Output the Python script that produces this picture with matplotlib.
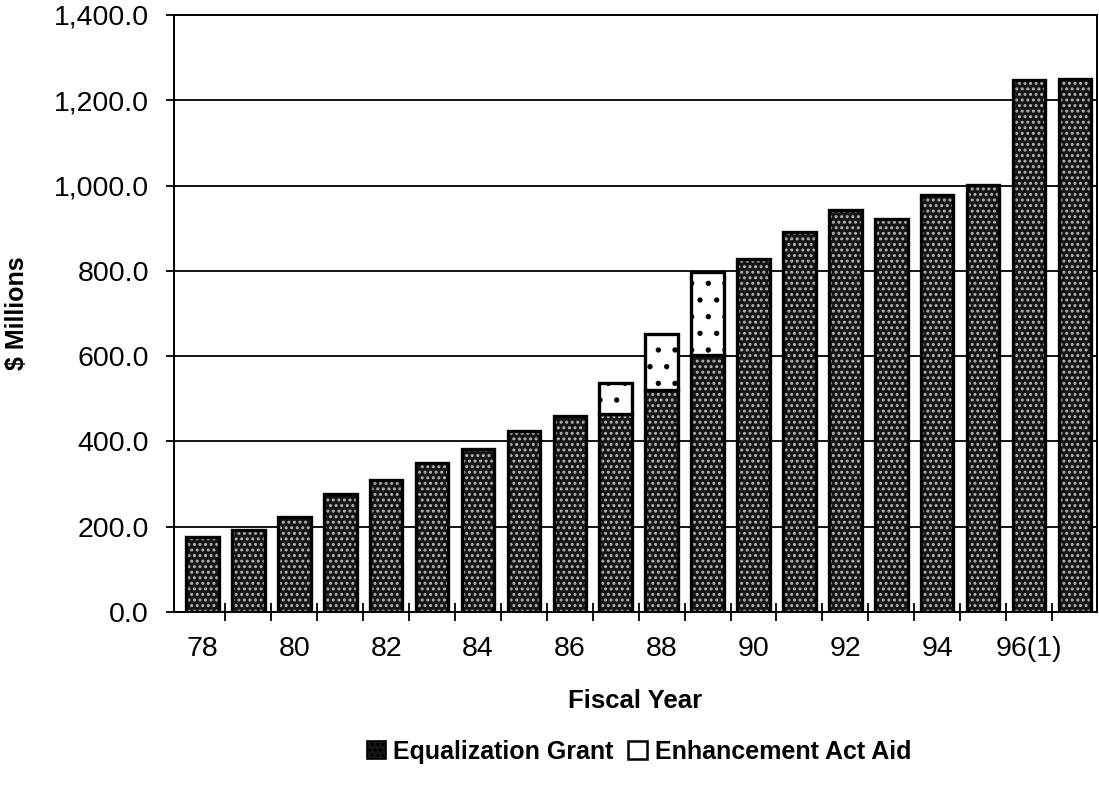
import matplotlib
matplotlib.use("Agg")
import matplotlib.pyplot as plt
from matplotlib.ticker import FuncFormatter, FixedLocator
from matplotlib.patches import Patch
import numpy as np

# Fiscal years 1978-1997 ($ millions)
fiscal_years = ["78", "79", "80", "81", "82", "83", "84", "85", "86", "87",
                "88", "89", "90", "91", "92", "93", "94", "95", "96", "97"]
equalization_grant = [176, 193, 222, 276, 310, 350, 383, 424, 460, 464,
                      520, 603, 827, 892, 943, 921, 977, 1002, 1247, 1250]
enhancement_act_aid = [0, 0, 0, 0, 0, 0, 0, 0, 0, 72,
                       133, 195, 0, 0, 0, 0, 0, 0, 0, 0]
tick_labels = ["78", "80", "82", "84", "86", "88", "90", "92", "94", "96(1)"]

plt.rcParams["font.family"] = ["Liberation Sans", "DejaVu Sans"]
plt.rcParams["hatch.linewidth"] = 1.4

fig = plt.figure(figsize=(10.99, 7.85), dpi=100)
ax = fig.add_axes([174 / 1099, 173 / 785, (1097 - 174) / 1099, (612 - 15) / 785])

x = np.arange(len(fiscal_years))
eq = np.array(equalization_grant)
enh = np.array(enhancement_act_aid)
width = 0.71
dark = "#151515"
speckle = "#b4b4b4"

# Equalization grant: dark stippled bars
ax.bar(x, eq, width, color=dark, edgecolor="none", zorder=3)
ax.bar(x, eq, width, color="none", edgecolor=speckle, hatch="...",
       linewidth=0, zorder=4)
ax.bar(x, eq, width, color="none", edgecolor="black", linewidth=2.4, zorder=5)

# Enhancement act aid: white bars with sparse dots, stacked on top
has_enh = enh > 0
ax.bar(x[has_enh], enh[has_enh], width, bottom=eq[has_enh], color="white",
       edgecolor="black", hatch=".", linewidth=2.4, zorder=5)

ax.set_ylim(0, 1400)
ax.set_xlim(-0.62, 19.48)
ax.set_yticks(np.arange(0, 1401, 200))
ax.yaxis.set_major_formatter(FuncFormatter(lambda v, p: f"{v:,.1f}"))
ax.grid(axis="y", color="black", linewidth=1.3, zorder=1)

# labels under every other year; tick marks between the bars
ax.xaxis.set_major_locator(FixedLocator(x[::2]))
ax.set_xticklabels(tick_labels)
ax.xaxis.set_minor_locator(FixedLocator(x[:-1] + 0.5))
ax.tick_params(axis="x", which="major", length=0, pad=17, labelsize=20.5)
ax.tick_params(axis="x", which="minor", length=13, width=1.3,
               direction="inout", color="black")
ax.tick_params(axis="y", length=6, width=1.3, direction="out", pad=12,
               labelsize=20.5)

for side in ["top", "right", "left", "bottom"]:
    ax.spines[side].set_linewidth(1.4)
    ax.spines[side].set_color("black")

ax.set_xlabel("Fiscal Year", fontsize=18.5, fontweight="bold", labelpad=20)
ax.set_ylabel("$ Millions", fontsize=18, fontweight="bold", labelpad=18)

handles = [
    Patch(facecolor=dark, edgecolor="black", hatch="...", linewidth=1.2,
          label="Equalization Grant"),
    Patch(facecolor="white", edgecolor="black", linewidth=1.8,
          label="Enhancement Act Aid"),
]
fig.legend(handles=handles, loc="center", bbox_to_anchor=(639 / 1099, 1 - 752 / 785),
           ncol=2, frameon=False, prop={"weight": "bold", "size": 18},
           handlelength=0.75, handleheight=0.75, handletextpad=0.3,
           columnspacing=0.6)

fig.savefig("out.png", dpi=100)
